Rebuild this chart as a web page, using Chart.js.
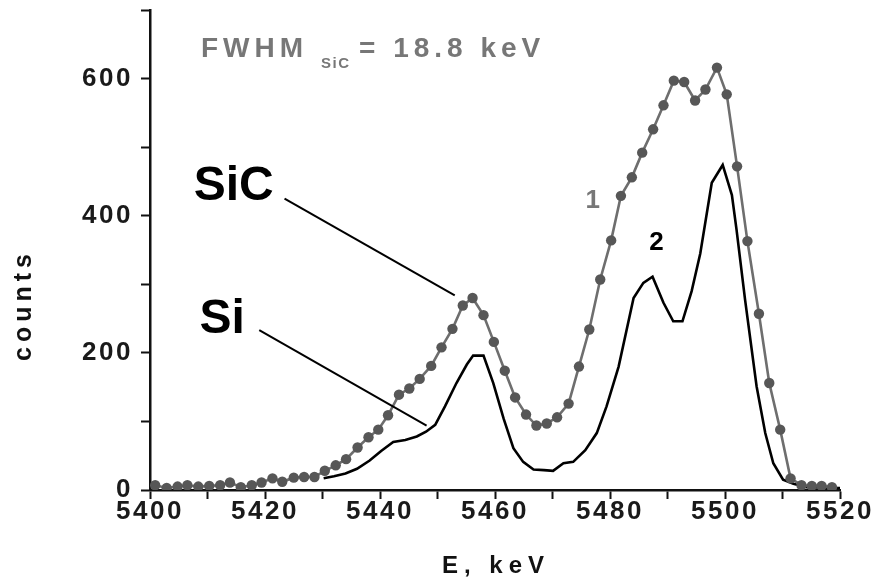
<!DOCTYPE html>
<html>
<head>
<meta charset="utf-8">
<script src="https://cdn.jsdelivr.net/npm/chart.js@4.4.1/dist/chart.umd.min.js"></script>
<style>
  html, body { margin: 0; padding: 0; background: #fff; }
  #wrap { width: 876px; height: 582px; }
</style>
</head>
<body>
<div id="wrap"><canvas id="spectrum" width="876" height="582"></canvas></div>
<script>
// curve 1 (SiC, dotted) - energy, keV / counts
const energy1 = [5400.9, 5402.9, 5404.8, 5406.5, 5408.4, 5410.3, 5412.2, 5413.9, 5415.8, 5417.7,
    5419.4, 5421.3, 5423.0, 5425.0, 5426.8, 5428.6, 5430.4, 5432.3, 5434.1, 5436.1,
    5438.0, 5439.7, 5441.4, 5443.3, 5445.1, 5446.9, 5448.9, 5450.7, 5452.6, 5454.4,
    5456.1, 5458.0, 5459.8, 5461.7, 5463.5, 5465.4, 5467.2, 5469.0, 5470.8, 5472.8,
    5474.6, 5476.4, 5478.3, 5480.2, 5481.9, 5483.8, 5485.6, 5487.5, 5489.3, 5491.1,
    5492.9, 5494.8, 5496.6, 5498.6, 5500.3, 5502.1, 5503.9, 5505.9, 5507.7, 5509.6,
    5511.4, 5513.3, 5515.1, 5516.8, 5518.6];
const counts1 = [7, 3, 5, 7, 5, 6, 7, 11, 4, 7,
    11, 17, 12, 18, 19, 19, 28, 36, 45, 62,
    77, 88, 109, 139, 148, 162, 181, 208, 235, 269,
    280, 255, 216, 174, 135, 110, 94, 97, 106, 126,
    180, 234, 307, 364, 429, 456, 492, 526, 561, 597,
    595, 568, 584, 616, 577, 472, 363, 257, 156, 88,
    17, 7, 6, 6, 4];

// curve 2 (Si, solid)
const energy2 = [5430.2, 5432.0, 5434.0, 5436.0, 5438.2, 5440.2, 5442.3, 5444.4, 5446.4, 5448.0,
    5449.6, 5451.3, 5453.3, 5455.1, 5456.2, 5458.0, 5459.7, 5461.5, 5463.2, 5464.9,
    5466.7, 5468.5, 5470.1, 5471.9, 5473.6, 5475.7, 5477.7, 5479.4, 5481.5, 5484.1,
    5485.8, 5487.4, 5489.3, 5491.0, 5492.6, 5494.2, 5495.7, 5497.7, 5499.6, 5501.2,
    5502.0, 5503.5, 5505.5, 5507.0, 5508.4, 5510.1, 5511.9, 5514.2, 5520.0];
const counts2 = [17, 20, 24, 31, 43, 57, 70, 73, 78, 85,
    95, 122, 156, 183, 196, 196, 156, 104, 61, 41,
    30, 29, 28, 39, 41, 58, 83, 122, 180, 280,
    302, 311, 273, 246, 246, 290, 345, 448, 474, 430,
    380, 277, 151, 83, 39, 15, 9, 4, 3];

const xLabelStep = 20;
const yLabelStep = 200;

const FONT = "'Liberation Sans', Arial, sans-serif";

// text drawn over the plot
const annotations = [
    { text: 'SiC', x: 5407.6, y: 423, size: 48, color: '#000', align: 'left', spacing: 0 },
    { text: 'Si', x: 5408.6, y: 229, size: 48, color: '#000', align: 'left', spacing: 0 },
    { text: '1', x: 5477.0, y: 411, size: 26, color: '#777', align: 'center', spacing: 0 },
    { text: '2', x: 5488.1, y: 350, size: 26, color: '#000', align: 'center', spacing: 0 }
];
const pointers = [
    { from: [5423.4, 425], to: [5453.0, 284] },
    { from: [5419.0, 233], to: [5448.1, 94] }
];

function xy(xs, ys) {
    return xs.map((e, i) => ({ x: e, y: ys[i] }));
}

function putText(ctx, text, x, y, size, color, align, spacing) {
    ctx.save();
    ctx.font = 'bold ' + size + 'px ' + FONT;
    ctx.fillStyle = color;
    ctx.textAlign = align;
    ctx.textBaseline = 'alphabetic';
    ctx.letterSpacing = spacing + 'px';
    ctx.fillText(text, x, y);
    ctx.restore();
}

const extras = {
    id: 'extras',
    beforeDraw(chart) {
        chart.ctx.letterSpacing = '2.5px';
    },
    afterDraw(chart) {
        const ctx = chart.ctx;
        const sx = chart.scales.x, sy = chart.scales.y;
        ctx.letterSpacing = '0px';

        // pointer lines
        ctx.save();
        ctx.strokeStyle = '#000';
        ctx.lineWidth = 2;
        pointers.forEach(p => {
            ctx.beginPath();
            ctx.moveTo(sx.getPixelForValue(p.from[0]), sy.getPixelForValue(p.from[1]));
            ctx.lineTo(sx.getPixelForValue(p.to[0]), sy.getPixelForValue(p.to[1]));
            ctx.stroke();
        });
        ctx.restore();

        annotations.forEach(a => {
            putText(ctx, a.text, sx.getPixelForValue(a.x), sy.getPixelForValue(a.y),
                a.size, a.color, a.align, a.spacing);
        });

        // FWHM note
        putText(ctx, 'FWHM', 201, 57, 28, '#777', 'left', 5);
        putText(ctx, 'SiC', 321, 68, 15, '#777', 'left', 1.5);
        putText(ctx, '= 18.8 keV', 359, 57, 28, '#777', 'left', 5);

        // axis titles
        putText(ctx, 'E, keV', 496, 573, 24, '#111', 'center', 6);
        ctx.save();
        ctx.translate(31, 305);
        ctx.rotate(-Math.PI / 2);
        putText(ctx, 'counts', 0, 0, 25, '#111', 'center', 5);
        ctx.restore();
    }
};

const axisGrid = {
    display: true,
    drawOnChartArea: false,
    drawTicks: true,
    tickLength: 9,
    tickWidth: 2,
    tickColor: '#111'
};

new Chart(document.getElementById('spectrum'), {
    type: 'scatter',
    plugins: [extras],
    data: {
        datasets: [
            {
                label: '1',
                data: xy(energy1, counts1),
                showLine: true,
                borderColor: '#6e6e6e',
                borderWidth: 2.6,
                pointRadius: 5.2,
                pointBackgroundColor: '#575757',
                pointBorderWidth: 0,
                tension: 0
            },
            {
                label: '2',
                data: xy(energy2, counts2),
                showLine: true,
                borderColor: '#000',
                borderWidth: 2.6,
                pointRadius: 0,
                tension: 0
            }
        ]
    },
    options: {
        responsive: false,
        animation: false,
        devicePixelRatio: 1,
        layout: { padding: { top: 10, right: 36, left: 0, bottom: 0 } },
        plugins: {
            legend: { display: false },
            tooltip: { enabled: false }
        },
        scales: {
            x: {
                type: 'linear',
                min: 5400,
                max: 5520,
                afterFit: s => { s.height = 92; },
                grid: axisGrid,
                border: { display: true, color: '#111', width: 2.5 },
                ticks: {
                    stepSize: 10,
                    padding: -3,
                    maxRotation: 0,
                    autoSkip: false,
                    color: '#1a1a1a',
                    font: { family: FONT, size: 26, weight: 'bold' },
                    callback: v => (v % xLabelStep === 0 ? String(v) : '')
                }
            },
            y: {
                min: 0,
                max: 700,
                afterFit: s => { s.width = 150; s.paddingTop = 0; s.paddingBottom = 0; },
                grid: axisGrid,
                border: { display: true, color: '#111', width: 2.5 },
                ticks: {
                    stepSize: 100,
                    padding: 8,
                    autoSkip: false,
                    color: '#1a1a1a',
                    font: { family: FONT, size: 26, weight: 'bold' },
                    callback: v => (v % yLabelStep === 0 && v < 700 ? String(v) : '')
                }
            }
        }
    }
});
</script>
</body>
</html>
